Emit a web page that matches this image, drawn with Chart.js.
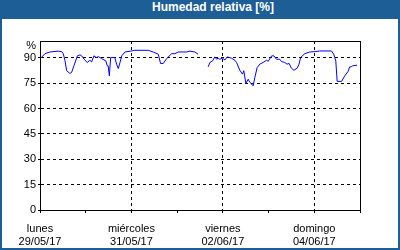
<!DOCTYPE html>
<html>
<head>
<meta charset="utf-8">
<script src="https://cdn.jsdelivr.net/npm/chart.js@4/dist/chart.umd.min.js"></script>
<style>
  html, body { margin: 0; padding: 0; background: #fff; }
  #marco { position: relative; width: 400px; height: 250px; background: #1e5e96; overflow: hidden; }
  #titulo { position: absolute; left: 0; top: 0; width: 374px; height: 19px; padding-left: 26px;
            line-height: 20px; text-align: center; color: #fff;
            font: bold 12px "Liberation Sans", Arial, sans-serif; }
  #grafico { position: absolute; left: 2px; top: 19px; background: #fff; }
</style>
</head>
<body>
<div id="marco">
  <div id="titulo">Humedad relativa [%]</div>
  <canvas id="grafico" width="396" height="229"></canvas>
</div>
<script>
// horas desde el lunes 29/05/17 00:00
const horas = [0.5, 2.6, 5.2, 9.6, 11.4, 12.2, 13.1, 14.0, 15.7, 16.6, 17.8, 19.6, 21.0, 21.9, 23.6,
  24.8, 26.2, 27.1, 28.3, 29.7, 30.6, 32.4, 33.6, 34.6, 35.3, 35.8, 36.4, 37.1, 39.3, 40.2, 41.1,
  42.0, 42.9, 44.6, 48.1, 49.8, 56.8, 59.4, 62.1, 63.3, 64.7, 66.5, 69.1, 70.8, 72.6, 77.0, 78.7,
  81.3, 83.0, 85.5,
  88.3, 89.2, 90.6, 91.8, 92.7, 93.5, 94.4, 95.8, 97.1, 98.3, 100.6, 102.3, 103.2, 104.9, 106.3,
  107.0, 108.1, 109.3, 110.2, 111.1, 111.9, 112.8, 114.0, 115.4, 117.1, 118.9, 119.8, 121.6, 122.8,
  124.2, 125.9, 126.8, 128.5, 129.7, 130.8, 132.0, 133.3, 135.0, 136.0, 136.8, 139.0, 141.6, 144.3,
  146.9, 153.0, 154.2, 155.3, 156.0, 158.3, 160.0, 161.7, 162.6, 163.5, 164.0, 166.5];

const humedad = [90, 92.5, 93.5, 94, 93.7, 92.5, 88.6, 82.4, 80.8, 81.4, 85.3, 91.2, 91.8, 91.2, 88.6,
  87.3, 88.6, 87.6, 91.2, 90.2, 90.8, 89.6, 88.8, 88.2, 85.3, 85.3, 79.4, 90.2, 90.2, 86.3, 83.7,
  87.3, 91.2, 93.5, 94.1, 94.5, 94.5, 93.5, 92.2, 86.7, 86.7, 89.6, 92.5, 92.5, 93.5, 93.5, 94,
  93.5, 92.2, null,
  84.7, 87.3, 88.2, 90.6, 89.2, 89.8, 89.2, 89.8, 88.8, 90.6, 89.8, 88.6, 87.3, 82.7, 80.4,
  82.4, 74.9, 77.4, 75.5, 74.5, 73.5, 78.4, 84.3, 86.3, 87.3, 88.6, 88, 91.2, 91.2,
  89.2, 89.2, 87.8, 87.3, 86.3, 86.7, 83.9, 82.7, 83.9, 86.3, 90.2, 92.5, 93.5, 93.7,
  94.1, 94.1, 92.2, 88.2, 76.1, 76.1, 79.4, 81.9, 84.7, 84.7, 85.3, 85.7];

const ticksY = [0, 15, 30, 45, 60, 75, 90];
const etiquetasX = {
  0: ['lunes', '29/05/17'],
  48: ['miércoles', '31/05/17'],
  96: ['viernes', '02/06/17'],
  144: ['domingo', '04/06/17']
};

const fuente = { family: '"Liberation Sans", Arial, sans-serif', size: 11, lineHeight: 1.2 };

// marco del área del gráfico
const marcoPlugin = {
  id: 'marcoArea',
  afterDraw(chart) {
    const { ctx, chartArea: a } = chart;
    ctx.save();
    ctx.strokeStyle = '#000';
    ctx.lineWidth = 1;
    ctx.strokeRect(Math.round(a.left) + 0.5, Math.round(a.top) + 0.5,
      Math.round(a.right - a.left), Math.round(a.bottom - a.top));
    ctx.restore();
  }
};

new Chart(document.getElementById('grafico'), {
  type: 'line',
  data: {
    datasets: [{
      data: horas.map((h, i) => ({ x: h, y: humedad[i] })),
      borderColor: '#0000ff',
      borderWidth: 1,
      pointRadius: 0,
      tension: 0,
      spanGaps: false
    }]
  },
  options: {
    responsive: false,
    animation: false,
    layout: { padding: { top: 22, right: 38, left: 0, bottom: 0 } },
    plugins: { legend: { display: false }, tooltip: { enabled: false } },
    scales: {
      x: {
        type: 'linear',
        min: 0,
        max: 168,
        afterBuildTicks: (s) => { s.ticks = [0, 24, 48, 72, 96, 120, 144, 168].map(v => ({ value: v })); },
        afterFit: (s) => { s.height = 38; },
        ticks: {
          autoSkip: false,
          maxRotation: 0,
          padding: 9,
          color: '#000',
          font: fuente,
          callback: (v) => etiquetasX[v] || ''
        },
        grid: {
          color: (c) => (c.tick && [48, 96, 144].includes(c.tick.value)) ? '#000' : 'rgba(0,0,0,0)',
          tickColor: '#000',
          tickLength: 3,
          lineWidth: 1
        },
        border: { display: true, color: '#000', width: 1, dash: [3, 3] }
      },
      y: {
        min: 0,
        max: 100,
        afterBuildTicks: (s) => { s.ticks = ticksY.concat([97]).map(v => ({ value: v })); },
        afterFit: (s) => { s.width = 38; },
        ticks: {
          autoSkip: false,
          padding: 2,
          color: '#000',
          font: fuente,
          callback: (v) => v === 97 ? '%' : v
        },
        grid: {
          color: (c) => (c.tick && c.tick.value > 0 && c.tick.value <= 90) ? '#000' : 'rgba(0,0,0,0)',
          tickColor: (c) => (c.tick && c.tick.value === 97) ? 'rgba(0,0,0,0)' : '#000',
          tickLength: 2,
          lineWidth: 1
        },
        border: { display: true, color: '#000', width: 1, dash: [3, 3] }
      }
    }
  },
  plugins: [marcoPlugin]
});
</script>
</body>
</html>
